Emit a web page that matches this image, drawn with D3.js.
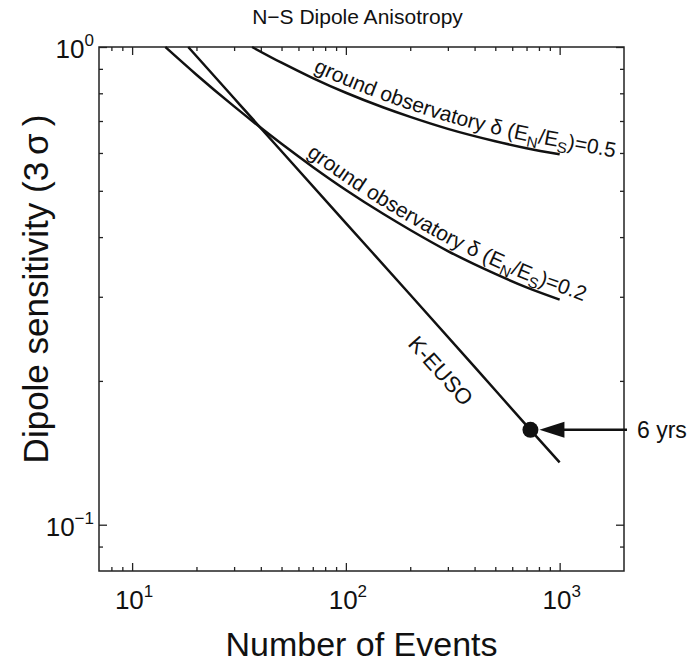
<html>
<meta charset="utf-8" />
<head>
<title>N-S Dipole Anisotropy</title>
<script src="https://cdn.jsdelivr.net/npm/d3@7"></script>
<style>
body { margin: 0; background: white; }
svg text { font-family: "Liberation Sans", Arial, Helvetica, sans-serif; fill: #111; }
</style>
<script>
// number of events vs 3 sigma dipole sensitivity
let kEusoEvents = [18.3, 30, 50, 100, 200, 400, 730, 1000];
let kEusoSens   = [1.0, 0.781, 0.605, 0.428, 0.303, 0.214, 0.158, 0.135];

let ground05Events = [36.4, 50, 70, 100, 150, 200, 300, 500, 700, 1000];
let ground05Sens   = [1.0, 0.927, 0.861, 0.802, 0.747, 0.714, 0.674, 0.635, 0.614, 0.596];

let ground02Events = [14.3, 20, 30, 50, 70, 100, 150, 200, 300, 500, 700, 1000];
let ground02Sens   = [1.0, 0.875, 0.751, 0.627, 0.561, 0.502, 0.447, 0.414, 0.374, 0.335, 0.314, 0.296];

// K-EUSO after 6 years
let sixYrsEvents = 730;
let sixYrsSens = 0.158;

let xMajor = [10, 100, 1000];
let xMinor = [8, 9, 20, 30, 40, 50, 60, 70, 80, 90, 200, 300, 400, 500, 600, 700, 800, 900];
let xTickExp = ['1', '2', '3'];
let yMajor = [0.1, 1];
let yMinor = [0.09, 0.2, 0.3, 0.4, 0.5, 0.6, 0.7, 0.8, 0.9];
let yTickExp = ['\u22121', '0'];

window.onload = function() {

	let svg = d3.select('svg');

	let x = d3.scaleLog().domain([7, 2000]).range([99, 624]);
	let y = d3.scaleLog().domain([0.08, 1]).range([571, 47]);
	let left = x.range()[0], right = x.range()[1];
	let top = y.range()[1], bottom = y.range()[0];

	// ticks on all four sides, pointing inward
	function ticks(axis, pos, values, size) {
		svg.append('g')
		.attr('transform', pos)
		.call(axis.tickValues(values).tickSize(size).tickSizeOuter(0).tickFormat(''))
		.call(g => g.select('.domain').remove())
		.call(g => g.selectAll('line').attr('stroke', '#222').attr('stroke-width', 1.3));
	}
	ticks(d3.axisBottom(x), `translate(0,${bottom})`, xMajor, -8);
	ticks(d3.axisBottom(x), `translate(0,${bottom})`, xMinor, -4);
	ticks(d3.axisTop(x), `translate(0,${top})`, xMajor, -8);
	ticks(d3.axisTop(x), `translate(0,${top})`, xMinor, -4);
	ticks(d3.axisLeft(y), `translate(${left},0)`, yMajor, -8);
	ticks(d3.axisLeft(y), `translate(${left},0)`, yMinor, -4);
	ticks(d3.axisRight(y), `translate(${right},0)`, yMajor, -8);
	ticks(d3.axisRight(y), `translate(${right},0)`, yMinor, -4);

	svg.append('rect')
	.attr('x', left).attr('y', top)
	.attr('width', right - left).attr('height', bottom - top)
	.style('fill', 'none').style('stroke', '#222').style('stroke-width', '1.5px');

	// tick labels 10^n
	svg.selectAll('.xlab').data(xMajor).enter()
	.append('text')
	.attr('x', d => x(d) + 2).attr('y', bottom + 38)
	.attr('text-anchor', 'middle')
	.style('font-size', '26px')
	.each(function(d, i) {
		let t = d3.select(this);
		t.append('tspan').text('10');
		t.append('tspan').attr('dy', -12).style('font-size', '17px').text(xTickExp[i]);
	});

	svg.selectAll('.ylab').data(yMajor).enter()
	.append('text')
	.attr('x', left - 5).attr('y', d => y(d) + 11)
	.attr('text-anchor', 'end')
	.style('font-size', '26px')
	.each(function(d, i) {
		let t = d3.select(this);
		t.append('tspan').text('10');
		t.append('tspan').attr('dy', -12).style('font-size', '17px').text(yTickExp[i]);
	});

	// titles
	svg.append('text')
	.attr('x', (left + right) / 2 - 4).attr('y', 24)
	.attr('text-anchor', 'middle')
	.style('font-size', '21px')
	.text('N\u2212S Dipole Anisotropy');

	svg.append('text')
	.attr('x', (left + right) / 2).attr('y', 656)
	.attr('text-anchor', 'middle')
	.style('font-size', '34px')
	.text('Number of Events');

	svg.append('text')
	.attr('transform', 'translate(48,289) rotate(-90)')
	.attr('text-anchor', 'middle')
	.style('font-size', '35px')
	.text('Dipole sensitivity (3\u2009\u03c3\u2009)');

	// curves
	let line = d3.line()
	.x(d => x(d[0]))
	.y(d => y(d[1]))
	.curve(d3.curveMonotoneX);

	let series = [
		[kEusoEvents, kEusoSens],
		[ground05Events, ground05Sens],
		[ground02Events, ground02Sens]
	];

	svg.append('g').selectAll('path')
	.data(series)
	.enter()
	.append('path')
	.attr('d', d => line(d[0].map((n, i) => [n, d[1][i]])))
	.style('fill', 'none')
	.style('stroke', '#111')
	.style('stroke-width', '2.5px');

	// labels running along the ground observatory curves
	let defs = svg.append('defs');
	function curveLabel(id, events, sens, startEvents, value) {
		let pts = events.map((n, i) => [x(n), y(sens[i]) - 7]);
		let a = pts[pts.length - 2], b = pts[pts.length - 1];
		let len = Math.hypot(b[0] - a[0], b[1] - a[1]);
		pts.push([b[0] + (b[0] - a[0]) / len * 140, b[1] + (b[1] - a[1]) / len * 140]);
		let p = defs.append('path').attr('id', id).attr('d', d3.line().curve(d3.curveMonotoneX)(pts));
		let node = p.node();
		let sx = x(startEvents), off = 0;
		while (node.getPointAtLength(off).x < sx) off += 0.5;

		let tp = svg.append('text').style('font-size', '21px')
		.append('textPath').attr('href', '#' + id).attr('startOffset', off);
		tp.append('tspan').text('ground observatory \u03b4 (E');
		tp.append('tspan').attr('dy', 5).style('font-size', '15px').text('N');
		tp.append('tspan').attr('dy', -5).text('/E');
		tp.append('tspan').attr('dy', 5).style('font-size', '15px').text('S');
		tp.append('tspan').attr('dy', -5).text(')=' + value);
	}
	curveLabel('lab05', ground05Events, ground05Sens, 70, '0.5');
	curveLabel('lab02', ground02Events, ground02Sens, 65, '0.2');

	// K-EUSO label along its line
	let n0 = kEusoEvents[0], n1 = kEusoEvents[kEusoEvents.length - 1];
	let s0 = kEusoSens[0], s1 = kEusoSens[kEusoSens.length - 1];
	let angle = Math.atan2(y(s1) - y(s0), x(n1) - x(n0)) * 180 / Math.PI;
	svg.append('text')
	.attr('transform', `translate(${x(278)},${y(0.21)}) rotate(${angle})`)
	.attr('text-anchor', 'middle')
	.attr('dy', '0.35em')
	.style('font-size', '22px')
	.text('K-EUSO');

	// 6 year point with arrow
	let px = x(sixYrsEvents), py = y(sixYrsSens);
	svg.append('circle')
	.attr('cx', px).attr('cy', py).attr('r', 8)
	.style('fill', '#111');

	let tip = px + 9;
	svg.append('path')
	.attr('d', `M${tip},${py}L${tip + 25},${py - 8}L${tip + 25},${py + 8}Z`)
	.style('fill', '#111');

	svg.append('line')
	.attr('x1', tip + 24).attr('x2', right + 3)
	.attr('y1', py).attr('y2', py)
	.style('stroke', '#111').style('stroke-width', '2.5px');

	svg.append('text')
	.attr('x', right + 13).attr('y', py + 8)
	.style('font-size', '23px')
	.text('6 yrs');
}
</script>
</head>
<body>
<svg width="694" height="668"></svg>
</body>
</html>
